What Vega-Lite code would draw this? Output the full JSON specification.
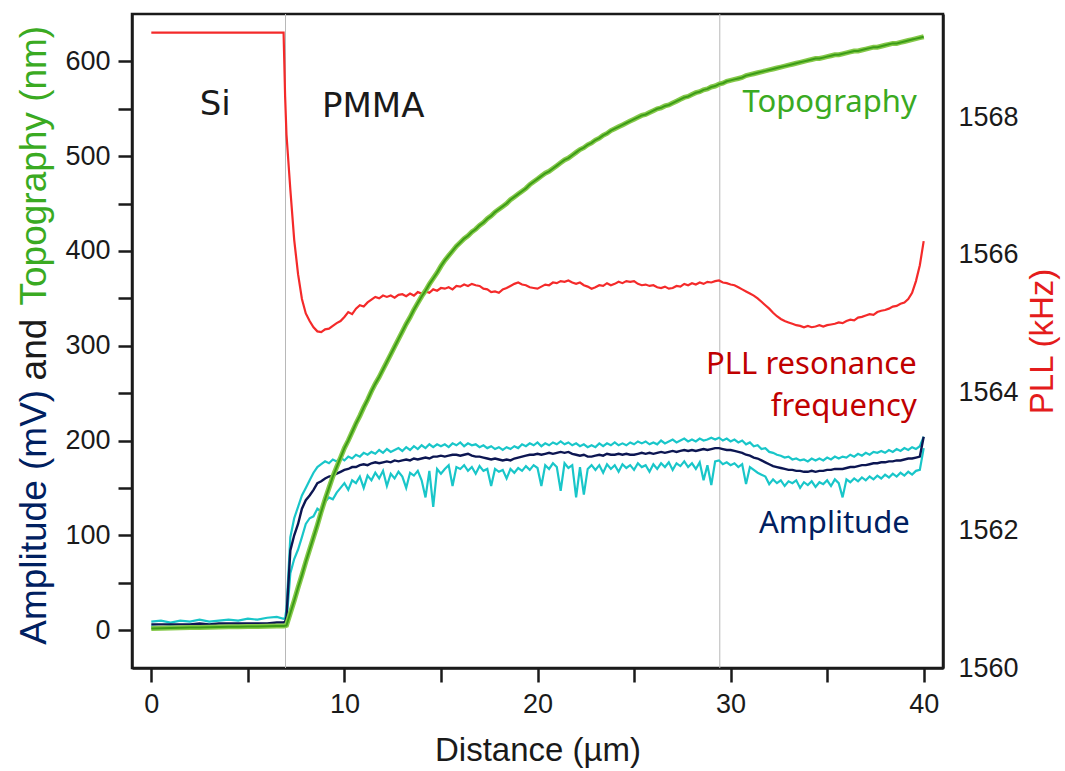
{
"$schema": "https://vega.github.io/schema/vega-lite/v6.json",
"width": 811, "height": 654,
"autosize": "none",
"padding": {"left": 132, "top": 14, "right": 122, "bottom": 103},
"background": "white",
"config": {
 "view": {"stroke": "#1a1a1a", "strokeWidth": 2.5},
 "axis": {"domainColor": "#1a1a1a", "domainWidth": 2.5, "tickColor": "#1a1a1a", "tickWidth": 2.5, "labelColor": "#1a1a1a", "labelFont": "Liberation Sans", "labelFontSize": 27, "titleFont": "Liberation Sans", "titleFontSize": 33, "titleFontWeight": "normal", "titleColor": "#1a1a1a", "grid": false, "labelOverlap": false, "labelFlush": false}
},
"datasets": {
 "prof": [
{"x":0,"amp":6,"hi":9,"lo":4,"topo":1.8,"pll":1569.23},
{"x":0.5,"amp":6,"hi":10,"lo":3,"topo":2.0,"pll":1569.23},
{"x":1,"amp":6,"hi":8,"lo":4,"topo":2.2,"pll":1569.23},
{"x":1.5,"amp":6,"hi":10,"lo":3,"topo":2.4,"pll":1569.23},
{"x":2,"amp":6,"hi":9,"lo":4,"topo":2.6,"pll":1569.23},
{"x":2.5,"amp":7,"hi":11,"lo":4,"topo":2.8,"pll":1569.23},
{"x":3,"amp":6,"hi":9,"lo":3,"topo":3.0,"pll":1569.23},
{"x":3.5,"amp":7,"hi":10,"lo":4,"topo":3.2,"pll":1569.23},
{"x":4,"amp":7,"hi":11,"lo":4,"topo":3.4,"pll":1569.23},
{"x":4.5,"amp":7,"hi":10,"lo":5,"topo":3.5,"pll":1569.23},
{"x":5,"amp":7,"hi":12,"lo":4,"topo":3.7,"pll":1569.23},
{"x":5.5,"amp":7,"hi":11,"lo":5,"topo":3.9,"pll":1569.23},
{"x":6,"amp":7,"hi":13,"lo":4,"topo":4.1,"pll":1569.23},
{"x":6.5,"amp":8,"hi":14,"lo":5,"topo":4.3,"pll":1569.23},
{"x":6.85,"amp":8,"hi":12,"lo":5,"topo":4.4,"pll":1569.23},
{"x":6.93,"amp":9,"hi":13,"lo":6,"topo":4.5,"pll":1568.3},
{"x":7,"amp":14,"hi":22,"lo":8,"topo":5,"pll":1567.75},
{"x":7.2,"amp":84,"hi":98,"lo":60,"topo":18,"pll":1566.95},
{"x":7.4,"amp":100,"hi":118,"lo":75,"topo":31,"pll":1566.22},
{"x":7.6,"amp":112,"hi":130,"lo":85,"topo":45,"pll":1565.72},
{"x":7.8,"amp":128,"hi":142,"lo":98,"topo":58,"pll":1565.36},
{"x":8.0,"amp":137,"hi":150,"lo":112,"topo":72,"pll":1565.15},
{"x":8.2,"amp":142,"hi":158,"lo":118,"topo":85,"pll":1565.04},
{"x":8.4,"amp":148,"hi":166,"lo":120,"topo":98,"pll":1564.95},
{"x":8.6,"amp":155,"hi":172,"lo":128,"topo":111,"pll":1564.89},
{"x":8.8,"amp":157,"hi":175,"lo":125,"topo":125,"pll":1564.88},
{"x":9.0,"amp":160,"hi":178,"lo":135,"topo":138,"pll":1564.92},
{"x":9.2,"amp":162,"hi":176,"lo":140,"topo":150,"pll":1564.93},
{"x":9.4,"amp":163,"hi":180,"lo":138,"topo":162,"pll":1564.97},
{"x":9.6,"amp":165,"hi":178,"lo":145,"topo":172,"pll":1565.01},
{"x":9.8,"amp":167,"hi":182,"lo":150,"topo":182,"pll":1565.04},
{"x":10.0,"amp":169,"hi":179,"lo":155,"topo":192,"pll":1565.10},
{"x":10.2,"amp":170,"hi":183,"lo":148,"topo":200,"pll":1565.17},
{"x":10.4,"amp":172,"hi":181,"lo":158,"topo":209,"pll":1565.14},
{"x":10.6,"amp":172,"hi":185,"lo":155,"topo":218,"pll":1565.22},
{"x":10.8,"amp":174,"hi":183,"lo":162,"topo":226,"pll":1565.27},
{"x":11.0,"amp":175,"hi":187,"lo":150,"topo":235,"pll":1565.25},
{"x":11.2,"amp":174,"hi":185,"lo":163,"topo":243,"pll":1565.31},
{"x":11.4,"amp":176,"hi":188,"lo":158,"topo":252,"pll":1565.35},
{"x":11.6,"amp":177,"hi":186,"lo":166,"topo":260,"pll":1565.39},
{"x":11.8,"amp":176,"hi":190,"lo":160,"topo":267,"pll":1565.37},
{"x":12.0,"amp":177,"hi":187,"lo":168,"topo":275,"pll":1565.41},
{"x":12.2,"amp":178,"hi":191,"lo":152,"topo":283,"pll":1565.39},
{"x":12.4,"amp":177,"hi":188,"lo":165,"topo":291,"pll":1565.41},
{"x":12.6,"amp":179,"hi":190,"lo":160,"topo":299,"pll":1565.38},
{"x":12.8,"amp":178,"hi":192,"lo":167,"topo":307,"pll":1565.42},
{"x":13.0,"amp":179,"hi":189,"lo":162,"topo":315,"pll":1565.43},
{"x":13.2,"amp":180,"hi":193,"lo":150,"topo":323,"pll":1565.40},
{"x":13.4,"amp":179,"hi":190,"lo":166,"topo":330,"pll":1565.44},
{"x":13.6,"amp":181,"hi":194,"lo":163,"topo":338,"pll":1565.41},
{"x":13.8,"amp":180,"hi":191,"lo":168,"topo":345,"pll":1565.46},
{"x":14.0,"amp":181,"hi":195,"lo":158,"topo":352,"pll":1565.44},
{"x":14.2,"amp":182,"hi":192,"lo":140,"topo":358,"pll":1565.47},
{"x":14.4,"amp":181,"hi":196,"lo":168,"topo":365,"pll":1565.45},
{"x":14.6,"amp":183,"hi":193,"lo":130,"topo":371,"pll":1565.50},
{"x":14.8,"amp":183,"hi":196,"lo":170,"topo":377,"pll":1565.48},
{"x":15.0,"amp":184,"hi":194,"lo":165,"topo":384,"pll":1565.52},
{"x":15.2,"amp":183,"hi":196,"lo":170,"topo":390,"pll":1565.51},
{"x":15.4,"amp":184,"hi":193,"lo":174,"topo":395,"pll":1565.53},
{"x":15.6,"amp":185,"hi":197,"lo":152,"topo":400,"pll":1565.50},
{"x":15.8,"amp":185,"hi":195,"lo":172,"topo":405,"pll":1565.55},
{"x":16.0,"amp":184,"hi":198,"lo":170,"topo":409,"pll":1565.54},
{"x":16.2,"amp":185,"hi":194,"lo":174,"topo":413,"pll":1565.57},
{"x":16.4,"amp":186,"hi":197,"lo":168,"topo":416,"pll":1565.55},
{"x":16.6,"amp":184,"hi":195,"lo":172,"topo":420,"pll":1565.58},
{"x":16.8,"amp":183,"hi":196,"lo":165,"topo":423,"pll":1565.56},
{"x":17.0,"amp":183,"hi":193,"lo":173,"topo":427,"pll":1565.55},
{"x":17.2,"amp":182,"hi":195,"lo":168,"topo":430,"pll":1565.51},
{"x":17.4,"amp":181,"hi":192,"lo":170,"topo":434,"pll":1565.50},
{"x":17.6,"amp":180,"hi":194,"lo":152,"topo":437,"pll":1565.46},
{"x":17.8,"amp":181,"hi":191,"lo":170,"topo":441,"pll":1565.47},
{"x":18.0,"amp":180,"hi":193,"lo":167,"topo":444,"pll":1565.45},
{"x":18.2,"amp":179,"hi":190,"lo":169,"topo":447,"pll":1565.50},
{"x":18.4,"amp":180,"hi":193,"lo":160,"topo":450,"pll":1565.52},
{"x":18.6,"amp":179,"hi":191,"lo":170,"topo":454,"pll":1565.55},
{"x":18.8,"amp":181,"hi":194,"lo":166,"topo":457,"pll":1565.58},
{"x":19.0,"amp":182,"hi":192,"lo":171,"topo":460,"pll":1565.60},
{"x":19.2,"amp":183,"hi":196,"lo":168,"topo":463,"pll":1565.57},
{"x":19.4,"amp":184,"hi":194,"lo":173,"topo":466,"pll":1565.56},
{"x":19.6,"amp":185,"hi":197,"lo":169,"topo":470,"pll":1565.53},
{"x":19.8,"amp":185,"hi":195,"lo":174,"topo":473,"pll":1565.52},
{"x":20.0,"amp":186,"hi":198,"lo":171,"topo":476,"pll":1565.51},
{"x":20.2,"amp":185,"hi":194,"lo":152,"topo":479,"pll":1565.54},
{"x":20.4,"amp":186,"hi":197,"lo":174,"topo":482,"pll":1565.57},
{"x":20.6,"amp":187,"hi":195,"lo":170,"topo":484,"pll":1565.56},
{"x":20.8,"amp":186,"hi":198,"lo":176,"topo":487,"pll":1565.60},
{"x":21.0,"amp":187,"hi":196,"lo":172,"topo":490,"pll":1565.59},
{"x":21.2,"amp":188,"hi":199,"lo":147,"topo":493,"pll":1565.62},
{"x":21.4,"amp":187,"hi":196,"lo":176,"topo":496,"pll":1565.61},
{"x":21.6,"amp":188,"hi":198,"lo":171,"topo":498,"pll":1565.63},
{"x":21.8,"amp":186,"hi":195,"lo":174,"topo":501,"pll":1565.60},
{"x":22.0,"amp":185,"hi":197,"lo":140,"topo":504,"pll":1565.58},
{"x":22.2,"amp":184,"hi":194,"lo":172,"topo":507,"pll":1565.60},
{"x":22.4,"amp":185,"hi":196,"lo":143,"topo":509,"pll":1565.56},
{"x":22.6,"amp":183,"hi":193,"lo":170,"topo":512,"pll":1565.54},
{"x":22.8,"amp":183,"hi":195,"lo":174,"topo":514,"pll":1565.51},
{"x":23.0,"amp":184,"hi":193,"lo":169,"topo":517,"pll":1565.53},
{"x":23.2,"amp":185,"hi":197,"lo":174,"topo":519,"pll":1565.56},
{"x":23.4,"amp":184,"hi":194,"lo":166,"topo":522,"pll":1565.55},
{"x":23.6,"amp":186,"hi":197,"lo":175,"topo":524,"pll":1565.59},
{"x":23.8,"amp":185,"hi":195,"lo":170,"topo":527,"pll":1565.56},
{"x":24.0,"amp":185,"hi":198,"lo":174,"topo":529,"pll":1565.58},
{"x":24.2,"amp":186,"hi":195,"lo":167,"topo":531,"pll":1565.61},
{"x":24.4,"amp":185,"hi":197,"lo":175,"topo":533,"pll":1565.59},
{"x":24.6,"amp":186,"hi":195,"lo":171,"topo":535,"pll":1565.62},
{"x":24.8,"amp":185,"hi":198,"lo":174,"topo":537,"pll":1565.61},
{"x":25.0,"amp":185,"hi":196,"lo":169,"topo":539,"pll":1565.62},
{"x":25.2,"amp":186,"hi":199,"lo":176,"topo":541,"pll":1565.58},
{"x":25.4,"amp":187,"hi":197,"lo":172,"topo":543,"pll":1565.56},
{"x":25.6,"amp":186,"hi":199,"lo":174,"topo":544,"pll":1565.57},
{"x":25.8,"amp":187,"hi":196,"lo":167,"topo":546,"pll":1565.55},
{"x":26.0,"amp":186,"hi":198,"lo":175,"topo":548,"pll":1565.56},
{"x":26.2,"amp":187,"hi":196,"lo":170,"topo":550,"pll":1565.53},
{"x":26.4,"amp":188,"hi":200,"lo":176,"topo":551,"pll":1565.52},
{"x":26.6,"amp":187,"hi":197,"lo":172,"topo":553,"pll":1565.54},
{"x":26.8,"amp":188,"hi":199,"lo":177,"topo":554,"pll":1565.51},
{"x":27.0,"amp":189,"hi":201,"lo":169,"topo":556,"pll":1565.52},
{"x":27.2,"amp":188,"hi":198,"lo":176,"topo":558,"pll":1565.55},
{"x":27.4,"amp":189,"hi":200,"lo":173,"topo":560,"pll":1565.54},
{"x":27.6,"amp":190,"hi":202,"lo":178,"topo":562,"pll":1565.58},
{"x":27.8,"amp":189,"hi":199,"lo":172,"topo":563,"pll":1565.56},
{"x":28.0,"amp":190,"hi":201,"lo":176,"topo":565,"pll":1565.59},
{"x":28.2,"amp":189,"hi":199,"lo":170,"topo":567,"pll":1565.57},
{"x":28.4,"amp":190,"hi":202,"lo":177,"topo":568,"pll":1565.60},
{"x":28.6,"amp":191,"hi":200,"lo":158,"topo":570,"pll":1565.58},
{"x":28.8,"amp":190,"hi":201,"lo":174,"topo":571,"pll":1565.61},
{"x":29.0,"amp":191,"hi":203,"lo":153,"topo":573,"pll":1565.60},
{"x":29.2,"amp":192,"hi":201,"lo":178,"topo":574,"pll":1565.62},
{"x":29.4,"amp":192,"hi":203,"lo":179,"topo":576,"pll":1565.63},
{"x":29.6,"amp":191,"hi":200,"lo":175,"topo":577,"pll":1565.60},
{"x":29.8,"amp":190,"hi":202,"lo":177,"topo":579,"pll":1565.59},
{"x":30.0,"amp":190,"hi":199,"lo":174,"topo":580,"pll":1565.57},
{"x":30.2,"amp":189,"hi":201,"lo":176,"topo":581,"pll":1565.56},
{"x":30.4,"amp":188,"hi":198,"lo":172,"topo":582,"pll":1565.53},
{"x":30.6,"amp":187,"hi":200,"lo":175,"topo":583,"pll":1565.50},
{"x":30.8,"amp":185,"hi":196,"lo":154,"topo":585,"pll":1565.47},
{"x":31.0,"amp":184,"hi":198,"lo":172,"topo":586,"pll":1565.44},
{"x":31.2,"amp":182,"hi":194,"lo":169,"topo":587,"pll":1565.41},
{"x":31.4,"amp":181,"hi":195,"lo":166,"topo":588,"pll":1565.37},
{"x":31.6,"amp":179,"hi":191,"lo":164,"topo":589,"pll":1565.32},
{"x":31.8,"amp":177,"hi":192,"lo":162,"topo":590,"pll":1565.27},
{"x":32.0,"amp":175,"hi":188,"lo":154,"topo":591,"pll":1565.22},
{"x":32.2,"amp":173,"hi":187,"lo":159,"topo":592,"pll":1565.16},
{"x":32.4,"amp":172,"hi":185,"lo":155,"topo":593,"pll":1565.11},
{"x":32.6,"amp":171,"hi":184,"lo":158,"topo":594,"pll":1565.07},
{"x":32.8,"amp":170,"hi":182,"lo":152,"topo":595,"pll":1565.04},
{"x":33.0,"amp":169,"hi":183,"lo":157,"topo":596,"pll":1565.02},
{"x":33.2,"amp":169,"hi":180,"lo":155,"topo":597,"pll":1565.00},
{"x":33.4,"amp":168,"hi":181,"lo":158,"topo":598,"pll":1564.98},
{"x":33.6,"amp":168,"hi":179,"lo":150,"topo":599,"pll":1564.97},
{"x":33.8,"amp":167,"hi":180,"lo":156,"topo":600,"pll":1564.95},
{"x":34.0,"amp":167,"hi":178,"lo":153,"topo":601,"pll":1564.97},
{"x":34.2,"amp":168,"hi":181,"lo":157,"topo":602,"pll":1564.95},
{"x":34.4,"amp":167,"hi":179,"lo":151,"topo":603,"pll":1564.96},
{"x":34.6,"amp":168,"hi":181,"lo":156,"topo":603,"pll":1564.98},
{"x":34.8,"amp":168,"hi":179,"lo":154,"topo":604,"pll":1564.96},
{"x":35.0,"amp":169,"hi":182,"lo":158,"topo":605,"pll":1564.98},
{"x":35.2,"amp":169,"hi":180,"lo":152,"topo":606,"pll":1564.99},
{"x":35.4,"amp":170,"hi":183,"lo":159,"topo":607,"pll":1565.00},
{"x":35.6,"amp":170,"hi":181,"lo":155,"topo":607,"pll":1565.02},
{"x":35.8,"amp":170,"hi":183,"lo":140,"topo":608,"pll":1565.01},
{"x":36.0,"amp":171,"hi":182,"lo":159,"topo":609,"pll":1565.04},
{"x":36.2,"amp":172,"hi":185,"lo":156,"topo":610,"pll":1565.06},
{"x":36.4,"amp":172,"hi":183,"lo":160,"topo":611,"pll":1565.05},
{"x":36.6,"amp":173,"hi":186,"lo":157,"topo":611,"pll":1565.09},
{"x":36.8,"amp":174,"hi":184,"lo":161,"topo":612,"pll":1565.10},
{"x":37.0,"amp":174,"hi":187,"lo":158,"topo":613,"pll":1565.12},
{"x":37.2,"amp":175,"hi":185,"lo":162,"topo":614,"pll":1565.14},
{"x":37.4,"amp":176,"hi":188,"lo":159,"topo":615,"pll":1565.13},
{"x":37.6,"amp":176,"hi":187,"lo":163,"topo":615,"pll":1565.17},
{"x":37.8,"amp":177,"hi":189,"lo":160,"topo":616,"pll":1565.19},
{"x":38.0,"amp":177,"hi":187,"lo":164,"topo":617,"pll":1565.20},
{"x":38.2,"amp":178,"hi":190,"lo":161,"topo":618,"pll":1565.22},
{"x":38.4,"amp":178,"hi":188,"lo":165,"topo":619,"pll":1565.25},
{"x":38.6,"amp":179,"hi":191,"lo":162,"topo":619,"pll":1565.26},
{"x":38.8,"amp":179,"hi":189,"lo":166,"topo":620,"pll":1565.29},
{"x":39.0,"amp":180,"hi":192,"lo":163,"topo":621,"pll":1565.31},
{"x":39.2,"amp":181,"hi":190,"lo":167,"topo":622,"pll":1565.36},
{"x":39.4,"amp":181,"hi":193,"lo":164,"topo":623,"pll":1565.45},
{"x":39.6,"amp":182,"hi":191,"lo":168,"topo":624,"pll":1565.62},
{"x":39.8,"amp":183,"hi":194,"lo":169,"topo":625,"pll":1565.85},
{"x":40.0,"amp":204,"hi":204,"lo":192,"topo":626,"pll":1566.2}
 ],
 "boundaries": [{"x": 6.95}, {"x": 29.44}],
 "regions": [{"label": "Si", "x": 3.31, "y": 554}, {"label": "PMMA", "x": 11.49, "y": 552}],
 "notes": [
  {"label": "Topography", "series": "Topography", "x": 39.64, "y": 556},
  {"label": "PLL resonance", "series": "PLL", "x": 39.64, "y": 280},
  {"label": "frequency", "series": "PLL", "x": 39.64, "y": 235},
  {"label": "Amplitude", "series": "Amplitude", "x": 39.28, "y": 112}
 ],
 "ytitle": [
  {"label": "Amplitude (mV)", "series": "Amplitude", "y": 119},
  {"label": "and", "series": "none", "y": 296},
  {"label": "Topography (nm)", "series": "Topography", "y": 490}
 ]
},
"layer": [
 {
  "data": {"name": "boundaries"},
  "mark": {"type": "rule", "color": "#b8b8b8", "strokeWidth": 1},
  "encoding": {"x": {"field": "x", "type": "quantitative", "scale": {"domain": [-1, 41], "nice": false, "zero": false},
    "axis": {"orient": "bottom", "values": [0,5,10,15,20,25,30,35,40], "labelExpr": "datum.value % 10 === 0 ? datum.label : ''", "tickSize": 14, "labelPadding": 9, "title": "Distance (µm)", "titlePadding": 17,
      "encode": {"ticks": {"update": {"y2": {"signal": "datum.value % 10 ? 7 : 14"}}}}}}}
 },
 {
  "data": {"name": "prof"},
  "mark": {"type": "line", "color": "#19c6c9", "strokeWidth": 2.2},
  "encoding": {
   "x": {"field": "x", "type": "quantitative"},
   "y": {"field": "hi", "type": "quantitative", "scale": {"domain": [-40, 650], "nice": false, "zero": false},
     "axis": {"orient": "left", "values": [0,50,100,150,200,250,300,350,400,450,500,550,600], "labelExpr": "datum.value % 100 === 0 ? datum.label : ''", "tickSize": 14, "labelPadding": 8, "title": null,
       "encode": {"ticks": {"update": {"x2": {"signal": "datum.value % 100 ? -7 : -14"}}}}}}
  }
 },
 {
  "data": {"name": "prof"},
  "mark": {"type": "line", "color": "#19c6c9", "strokeWidth": 2.2},
  "encoding": {
   "x": {"field": "x", "type": "quantitative"},
   "y": {"field": "lo", "type": "quantitative", "scale": {"domain": [-40, 650], "nice": false, "zero": false}, "axis": null}
  }
 },
 {
  "data": {"name": "prof"},
  "mark": {"type": "line", "color": "#0c1652", "strokeWidth": 2.4},
  "encoding": {
   "x": {"field": "x", "type": "quantitative"},
   "y": {"field": "amp", "type": "quantitative", "scale": {"domain": [-40, 650], "nice": false, "zero": false}, "axis": null}
  }
 },
 {
  "data": {"name": "prof"},
  "mark": {"type": "line", "color": "#f42a2a", "strokeWidth": 2.2},
  "encoding": {
   "x": {"field": "x", "type": "quantitative"},
   "y": {"field": "pll", "type": "quantitative", "scale": {"domain": [1560, 1569.5], "nice": false, "zero": false},
     "axis": {"orient": "right", "values": [1560,1561,1562,1563,1564,1565,1566,1567,1568,1569], "format": "d", "labelExpr": "datum.value % 2 === 0 ? datum.label : ''", "tickSize": 0, "labelPadding": 15, "title": "PLL (kHz)", "titleColor": "#e41c1c", "titleAngle": 270, "titleBaseline": "top", "titlePadding": 8,
       "encode": {"ticks": {"update": {"x2": {"signal": "datum.value % 2 ? -6 : -13"}}}}}}
  }
 },
 {
  "data": {"name": "prof"},
  "mark": {"type": "line", "color": "#86c94a", "strokeWidth": 5},
  "encoding": {
   "x": {"field": "x", "type": "quantitative"},
   "y": {"field": "topo", "type": "quantitative", "scale": {"domain": [-40, 650], "nice": false, "zero": false}, "axis": null}
  }
 },
 {
  "data": {"name": "prof"},
  "mark": {"type": "line", "color": "#3b9c17", "strokeWidth": 2},
  "encoding": {
   "x": {"field": "x", "type": "quantitative"},
   "y": {"field": "topo", "type": "quantitative", "scale": {"domain": [-40, 650], "nice": false, "zero": false}, "axis": null}
  }
 },
 {
  "data": {"name": "regions"},
  "mark": {"type": "text", "font": "DejaVu Sans", "fontSize": 34, "color": "#1a1a1a", "align": "center", "baseline": "middle"},
  "encoding": {
   "x": {"field": "x", "type": "quantitative"},
   "y": {"field": "y", "type": "quantitative", "scale": {"domain": [-40, 650], "nice": false, "zero": false}, "axis": null},
   "text": {"field": "label"}
  }
 },
 {
  "data": {"name": "notes"},
  "mark": {"type": "text", "font": "Noto Sans", "fontSize": 31, "align": "right", "baseline": "middle"},
  "encoding": {
   "x": {"field": "x", "type": "quantitative"},
   "y": {"field": "y", "type": "quantitative", "scale": {"domain": [-40, 650], "nice": false, "zero": false}, "axis": null},
   "text": {"field": "label"},
   "color": {"field": "series", "type": "nominal", "scale": {"domain": ["Amplitude", "Topography", "PLL", "none"], "range": ["#002060", "#3aaa22", "#c00000", "#1a1a1a"]}, "legend": null}
  }
 },
 {
  "data": {"name": "ytitle"},
  "mark": {"type": "text", "font": "Liberation Sans", "fontSize": 37, "angle": 270, "align": "center", "baseline": "middle"},
  "encoding": {
   "x": {"datum": -6.0, "type": "quantitative"},
   "y": {"field": "y", "type": "quantitative", "scale": {"domain": [-40, 650], "nice": false, "zero": false}, "axis": null},
   "text": {"field": "label"},
   "color": {"field": "series", "type": "nominal", "legend": null}
  }
 }
],
"resolve": {"scale": {"y": "independent"}}
}
